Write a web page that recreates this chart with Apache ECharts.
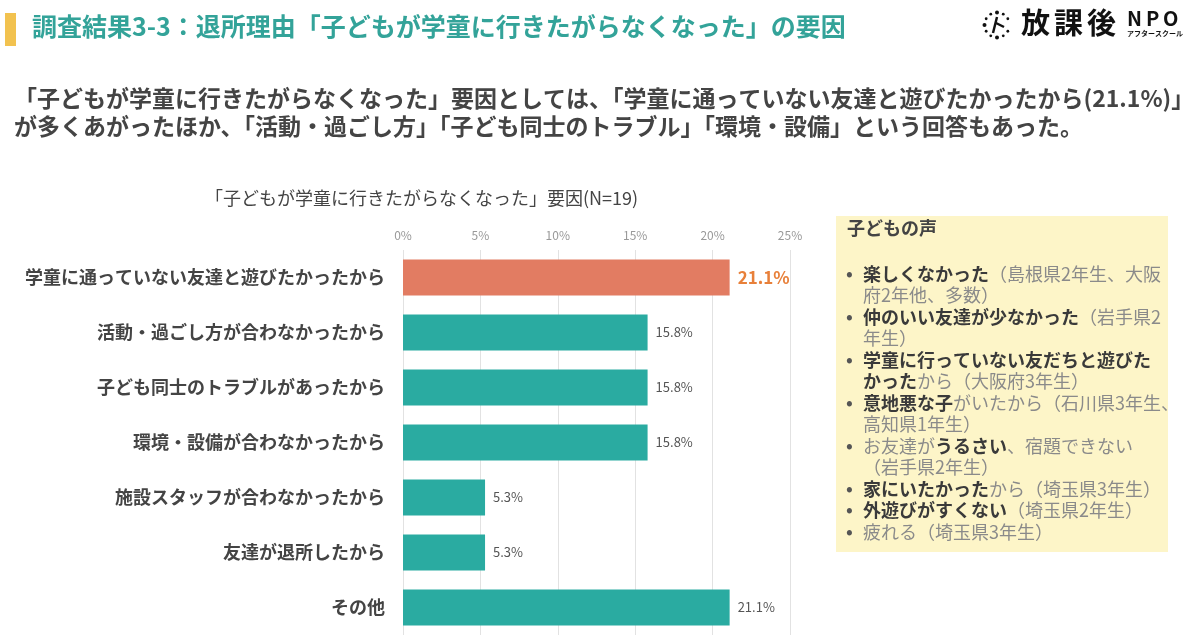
<!DOCTYPE html>
<html><head><meta charset="utf-8">
<script src="https://cdn.jsdelivr.net/npm/echarts@6/dist/echarts.min.js"></script>
<style>html,body{margin:0;padding:0;background:#fff}#c{width:1200px;height:642px}</style>
</head><body><div id="c"></div>
<script>
const categories = [
  '学童に通っていない友達と遊びたかったから',
  '活動・過ごし方が合わなかったから',
  '子ども同士のトラブルがあったから',
  '環境・設備が合わなかったから',
  '施設スタッフが合わなかったから',
  '友達が退所したから',
  'その他'
];
const values = [21.1, 15.8, 15.8, 15.8, 5.3, 5.3, 21.1];
const axisMin = 0, axisMax = 25, axisStep = 5;

const pageTitle = '調査結果3-3：退所理由「子どもが学童に行きたがらなくなった」の要因';
const summaryLines = [
  '「子どもが学童に行きたがらなくなった」要因としては、「学童に通っていない友達と遊びたかったから(21.1%)」',
  'が多くあがったほか、「活動・過ごし方」「子ども同士のトラブル」「環境・設備」という回答もあった。'
];
const chartTitle = '「子どもが学童に行きたがらなくなった」要因(N=19)';
const voiceTitle = '子どもの声';
// each line: [bullet?, [[text, bold?], ...]]
const voiceLines = [
  [true,  [['楽しくなかった', 1], ['（島根県2年生、大阪', 0]]],
  [false, [['府2年他、多数）', 0]]],
  [true,  [['仲のいい友達が少なかった', 1], ['（岩手県2', 0]]],
  [false, [['年生）', 0]]],
  [true,  [['学童に行っていない友だちと遊びた', 1]]],
  [false, [['かった', 1], ['から（大阪府3年生）', 0]]],
  [true,  [['意地悪な子', 1], ['がいたから（石川県3年生、', 0]]],
  [false, [['高知県1年生）', 0]]],
  [true,  [['お友達が', 0], ['うるさい', 1], ['、宿題できない', 0]]],
  [false, [['（岩手県2年生）', 0]]],
  [true,  [['家にいたかった', 1], ['から（埼玉県3年生）', 0]]],
  [true,  [['外遊びがすくない', 1], ['（埼玉県2年生）', 0]]],
  [true,  [['疲れる（埼玉県3年生）', 0]]]
];

const FONT = '"Noto Sans CJK JP", "Noto Sans", sans-serif';
const TEAL = '#2aaba1', ORANGE = '#e27c62';

const chart = echarts.init(document.getElementById('c'));

const graphics = [
  {type:'rect', shape:{x:5,y:13,width:11,height:33}, style:{fill:'#f2c24f'}},
  {type:'text', left:32, top:14, style:{text:pageTitle, font:'bold 25px '+FONT, fill:'#33a399'}},
  {type:'text', left:14, top:87, style:{text:summaryLines[0], font:'bold 23px '+FONT, fill:'#444'}},
  {type:'text', left:14, top:115, style:{text:summaryLines[1], font:'bold 23px '+FONT, fill:'#444'}},
  {type:'text', left:205, top:189, style:{text:chartTitle, font:'18px '+FONT, fill:'#444'}},
  // voice box
  {type:'rect', shape:{x:836,y:216,width:332,height:336}, style:{fill:'#fdf5c8'}},
  {type:'text', left:847, top:219, style:{text:voiceTitle, font:'bold 18px '+FONT, fill:'#444'}},
  // logo
  {type:'text', left:1021, top:8, style:{text:'放', font:'bold 29px '+FONT, fill:'#111'}},
  {type:'text', left:1054, top:8, style:{text:'課', font:'bold 29px '+FONT, fill:'#111'}},
  {type:'text', left:1087, top:8, style:{text:'後', font:'bold 29px '+FONT, fill:'#111'}},
  {type:'text', left:1127, top:8, style:{text:'N', font:'bold 20px '+FONT, fill:'#111'}},
  {type:'text', left:1146, top:8, style:{text:'P', font:'bold 20px '+FONT, fill:'#111'}},
  {type:'text', left:1163, top:8, style:{text:'O', font:'bold 20px '+FONT, fill:'#111'}},
  {type:'text', left:1127, top:30, style:{text:'アフタースクール', font:'bold 7px '+FONT, fill:'#111'}}
];
// logo clock dots
for (let i = 0; i < 12; i++) {
  if (i === 3) continue;
  const a = i / 12 * Math.PI * 2 - Math.PI / 2;
  graphics.push({type:'circle', shape:{cx:997 + 12.5*Math.cos(a), cy:25 + 12.5*Math.sin(a), r:(i%3===0?2:1.4)}, style:{fill:'#111'}});
}
graphics.push({type:'polyline', shape:{points:[[997,17],[993,33]]}, style:{stroke:'#111', lineWidth:2.5, fill:null}});
graphics.push({type:'polyline', shape:{points:[[996,23],[1004,27]]}, style:{stroke:'#111', lineWidth:2.5, fill:null}});

voiceLines.forEach((ln, i) => {
  const y = 265 + i * 21.5;
  if (ln[0]) graphics.push({type:'text', left:846, top:y - 1, style:{text:'•', font:'bold 18px '+FONT, fill:'#555'}});
  graphics.push({type:'text', left:863, top:y, style:{
    text: ln[1].map(p => '{' + (p[1] ? 'b' : 'n') + '|' + p[0] + '}').join(''),
    rich: {
      b: {font:'bold 18px '+FONT, fill:'#3a3a3a'},
      n: {font:'18px '+FONT, fill:'#8a8a8a'}
    }
  }});
});

chart.setOption({
  backgroundColor:'#fff',
  animation:false,
  textStyle:{fontFamily:FONT},
  grid:{left:403, right:410, top:250, bottom:7, containLabel:false},
  xAxis:{
    type:'value', position:'top', min:axisMin, max:axisMax, interval:axisStep,
    axisLine:{show:false}, axisTick:{show:false},
    axisLabel:{formatter:'{value}%', color:'#999', fontSize:12, margin:9, fontFamily:FONT},
    splitLine:{lineStyle:{color:'#e2e2e2', width:1}}
  },
  yAxis:{
    type:'category', data:categories, inverse:true,
    axisLine:{show:false}, axisTick:{show:false},
    axisLabel:{color:'#444', fontSize:18, fontWeight:'bold', margin:18, fontFamily:FONT}
  },
  series:[{
    type:'bar', barWidth:36,
    data: values.map((v, i) => ({
      value: v,
      itemStyle:{color: i === 0 ? ORANGE : TEAL},
      label: i === 0 ? {color:'#e8803a', fontSize:17, fontWeight:'bold'} : {}
    })),
    label:{show:true, position:'right', distance:8, color:'#555', fontSize:13,
      formatter: p => p.value.toFixed(1) + '%'}
  }],
  graphic: graphics
});
</script></body></html>
